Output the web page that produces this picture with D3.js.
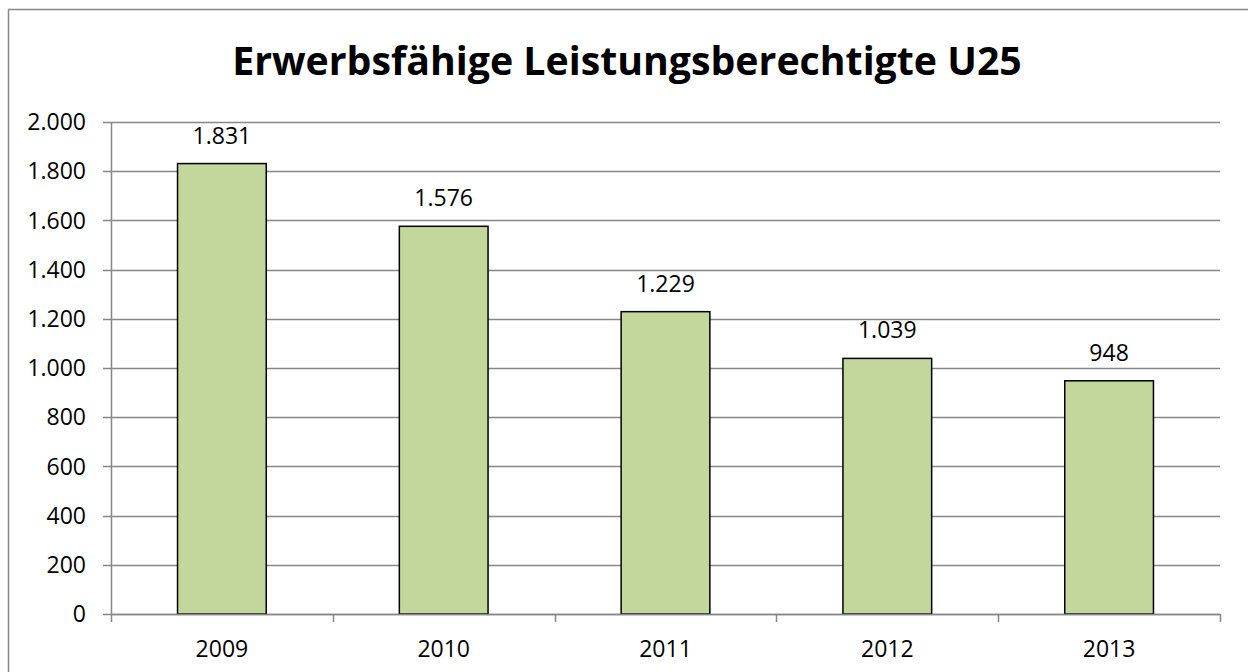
<!DOCTYPE html>
<html>
<head>
<meta charset="utf-8">
<script src="https://cdn.jsdelivr.net/npm/d3@7"></script>
<style>
  html, body { margin: 0; padding: 0; background: #fff; }
  svg { display: block; }
  text { font-family: "Open Sans", sans-serif; fill: #000; }
</style>
</head>
<body>
<svg id="chart" width="1248" height="672"></svg>
<script>
const years = ["2009", "2010", "2011", "2012", "2013"]
const values = [1831, 1576, 1229, 1039, 948]
const yTicks = [0, 200, 400, 600, 800, 1000, 1200, 1400, 1600, 1800, 2000]
const title = "Erwerbsfähige Leistungsberechtigte U25"

const W = 1248, H = 672
const plot = { left: 111, right: 1220, top: 122, bottom: 614 }
const gridColor = "#878787"
const labelSize = 23
const fmt = d3.formatLocale({ decimal: ",", thousands: ".", grouping: [3], currency: ["", "€"] }).format(",d")

const svg = d3.select("#chart")

// outer frame (right/bottom edges fall outside the picture)
svg.append("rect")
  .attr("x", 8.5).attr("y", 9.5)
  .attr("width", W + 20).attr("height", H + 20)
  .attr("fill", "#fff")
  .attr("stroke", gridColor)
  .attr("stroke-width", 1.5)

const x = d3.scaleBand()
  .domain(years)
  .range([plot.left, plot.right])
  .paddingInner(0.6)
  .paddingOuter(0.3)

const y = d3.scaleLinear()
  .domain([0, 2000])
  .range([plot.bottom, plot.top])

// gridlines
svg.append("g")
  .selectAll("line")
  .data(yTicks)
  .join("line")
  .attr("x1", plot.left - 8).attr("x2", plot.right)
  .attr("y1", d => Math.round(y(d)) + 0.5).attr("y2", d => Math.round(y(d)) + 0.5)
  .attr("stroke", gridColor)
  .attr("stroke-width", 1.5)

// y labels
svg.append("g")
  .selectAll("text")
  .data(yTicks)
  .join("text")
  .attr("x", 86)
  .attr("y", d => y(d))
  .attr("dy", "0.36em")
  .attr("text-anchor", "end")
  .attr("font-size", labelSize)
  .text(d => fmt(d))

// y axis line
svg.append("line")
  .attr("x1", plot.left + 0.5).attr("x2", plot.left + 0.5)
  .attr("y1", plot.top).attr("y2", plot.bottom)
  .attr("stroke", gridColor).attr("stroke-width", 1.5)

// x ticks at category boundaries
const step = (plot.right - plot.left) / years.length
const bounds = d3.range(years.length + 1).map(i => plot.left + i * step)
svg.append("g")
  .selectAll("line")
  .data(bounds)
  .join("line")
  .attr("x1", d => Math.round(d) + 0.5).attr("x2", d => Math.round(d) + 0.5)
  .attr("y1", plot.bottom).attr("y2", plot.bottom + 8)
  .attr("stroke", gridColor).attr("stroke-width", 1.5)

// bars
svg.append("g")
  .selectAll("rect")
  .data(values)
  .join("rect")
  .attr("x", (d, i) => x(years[i]))
  .attr("y", d => y(d))
  .attr("width", x.bandwidth())
  .attr("height", d => plot.bottom - y(d))
  .attr("fill", "#c3d69b")
  .attr("stroke", "#000")
  .attr("stroke-width", 1.5)

// baseline over the bars
svg.append("line")
  .attr("x1", plot.left).attr("x2", plot.right)
  .attr("y1", plot.bottom + 0.5).attr("y2", plot.bottom + 0.5)
  .attr("stroke", gridColor).attr("stroke-width", 1.5)

// value labels
svg.append("g")
  .selectAll("text")
  .data(values)
  .join("text")
  .attr("x", (d, i) => x(years[i]) + x.bandwidth() / 2)
  .attr("y", d => y(d) - 20)
  .attr("text-anchor", "middle")
  .attr("font-size", labelSize)
  .text(d => fmt(d))

// x labels
svg.append("g")
  .selectAll("text")
  .data(years)
  .join("text")
  .attr("x", d => x(d) + x.bandwidth() / 2)
  .attr("y", 657)
  .attr("text-anchor", "middle")
  .attr("font-size", labelSize)
  .text(d => d)

// title, sized to the width it has in the reference
const t = svg.append("text")
  .attr("x", 627)
  .attr("y", 75)
  .attr("text-anchor", "middle")
  .attr("font-weight", "bold")
  .attr("font-size", 100)
  .text(title)
const tw = t.node().getComputedTextLength()
t.attr("font-size", 100 * 790 / tw)
</script>
</body>
</html>
